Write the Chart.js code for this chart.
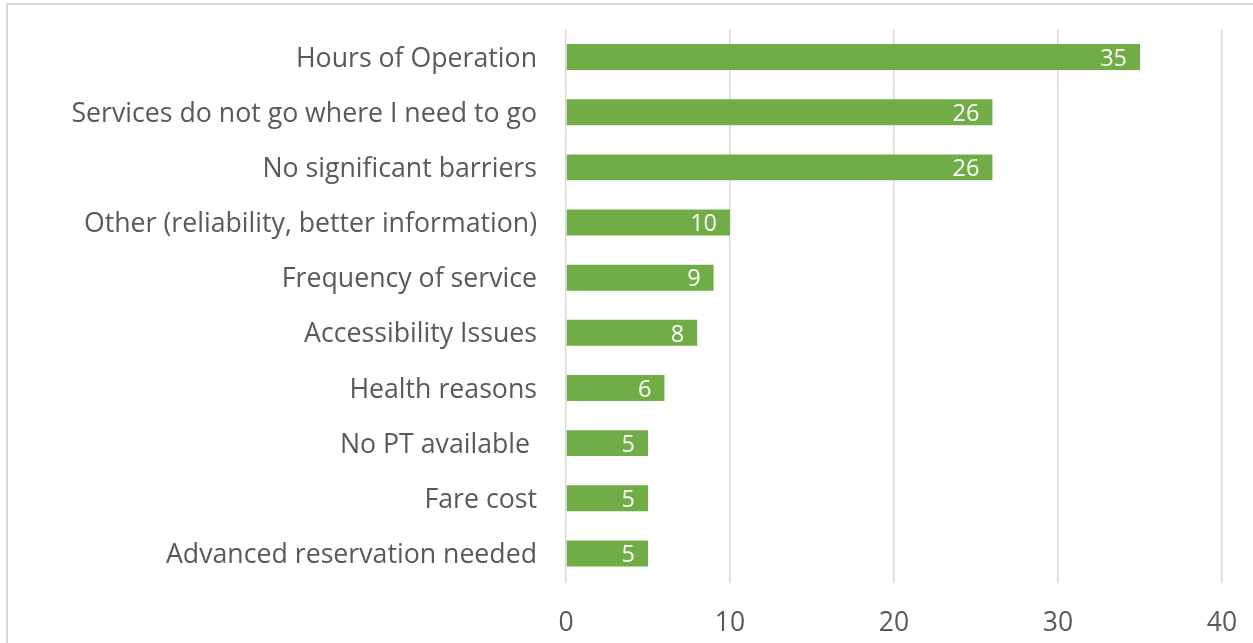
<!DOCTYPE html>
<html>
<head>
<meta charset="utf-8">
<script src="https://cdn.jsdelivr.net/npm/chart.js@4/dist/chart.umd.min.js"></script>
<style>
html,body{margin:0;padding:0;background:#fff;overflow:hidden;}
#wrap{position:absolute;left:0;top:0;width:1253px;height:643px;}
</style>
</head>
<body>
<div id="wrap"><canvas id="c" width="1253" height="643"></canvas></div>
<script>
const categories = [
  "Hours of Operation",
  "Services do not go where I need to go",
  "No significant barriers",
  "Other (reliability, better information)",
  "Frequency of service",
  "Accessibility Issues",
  "Health reasons",
  "No PT available ",
  "Fare cost",
  "Advanced reservation needed"
];
const values = [35, 26, 26, 10, 9, 8, 6, 5, 5, 5];
const xTicks = [0, 10, 20, 30, 40];

const frame = {
  id: 'frame',
  beforeDraw(chart) {
    const ctx = chart.ctx;
    ctx.save();
    ctx.fillStyle = '#ffffff';
    ctx.fillRect(0, 0, chart.width, chart.height);
    ctx.strokeStyle = '#d9d9d9';
    ctx.lineWidth = 2;
    ctx.beginPath();
    ctx.moveTo(7, 700);
    ctx.lineTo(7, 4);
    ctx.lineTo(1300, 4);
    ctx.stroke();
    ctx.restore();
  }
};

const labels = {
  id: 'valLabels',
  afterDatasetsDraw(chart) {
    const ctx = chart.ctx;
    const meta = chart.getDatasetMeta(0);
    ctx.save();
    ctx.font = '23.5px "Open Sans"';
    ctx.fillStyle = '#ffffff';
    ctx.textAlign = 'right';
    ctx.textBaseline = 'middle';
    meta.data.forEach((bar, i) => {
      ctx.fillText(String(values[i]), bar.x - 13, bar.y + 2);
    });
    ctx.restore();
  }
};

new Chart(document.getElementById('c'), {
  type: 'bar',
  data: {
    labels: categories,
    datasets: [{
      data: values,
      backgroundColor: '#70ad47',
      borderWidth: 0,
      barPercentage: 0.47,
      categoryPercentage: 1.0
    }]
  },
  options: {
    indexAxis: 'y',
    responsive: false,
    animation: false,
    layout: { padding: { top: 29.5, right: 31, left: 0, bottom: 0 } },
    plugins: { legend: { display: false }, tooltip: { enabled: false }, title: { display: false } },
    scales: {
      x: {
        min: 0, max: 40,
        afterBuildTicks(axis) { axis.ticks = xTicks.map(v => ({ value: v })); },
        afterFit(axis) { axis.height = 62; axis.paddingLeft = 0; axis.paddingRight = 0; },
        grid: { color: '#d9d9d9', lineWidth: 1.5, drawTicks: true, tickLength: 2, tickColor: '#d9d9d9' },
        border: { display: false },
        ticks: { color: '#595959', font: { family: 'Open Sans', size: 26.5 }, padding: 25, maxRotation: 0 }
      },
      y: {
        afterFit(axis) { axis.width = 566; axis.paddingTop = 0; axis.paddingBottom = 0; },
        grid: { display: false, drawTicks: false },
        border: { display: false },
        ticks: { color: '#595959', font: { family: 'Open Sans', size: 26.7 }, padding: 29, labelOffset: 2, autoSkip: false }
      }
    }
  },
  plugins: [frame, labels]
});
</script>
</body>
</html>
